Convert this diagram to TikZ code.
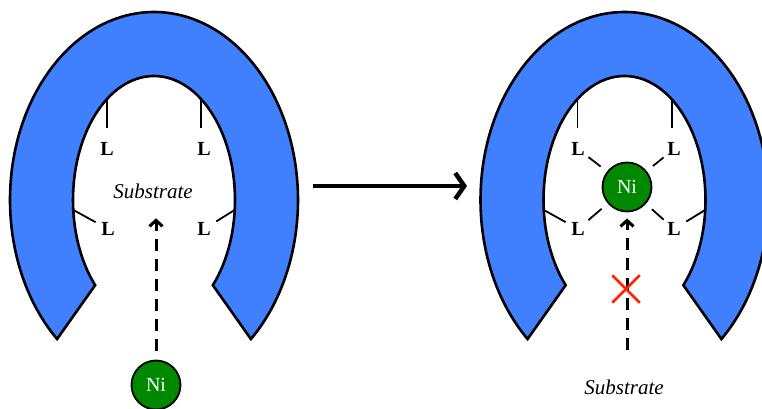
\documentclass[tikz,border=0pt]{standalone}
\usepackage{fontspec}
\setmainfont{Liberation Serif}
\usetikzlibrary{arrows.meta,shapes.misc,calc}
\definecolor{hoofblue}{RGB}{64,128,255}
\definecolor{nigreen}{RGB}{0,136,0}
\definecolor{blockred}{RGB}{255,34,0}
\begin{document}
\begin{tikzpicture}[x=1pt,y=1pt,
  host/.style={fill=hoofblue,draw=black,line width=2.6pt,line join=miter},
  lig/.style={font=\fontsize{20}{20}\selectfont\bfseries,inner sep=2pt},
  bond/.style={line width=1.8pt},
  metal/.style={circle,fill=nigreen,draw=black,line width=1.8pt,minimum size=49pt,
    inner sep=0pt,text=white,font=\fontsize{20}{20}\selectfont},
  subst/.style={font=\fontsize{21}{21}\selectfont\itshape,inner sep=3pt},
  approach/.style={line width=3pt,dash pattern=on 12pt off 8pt,
    -{Straight Barb[length=6pt,width=13pt]}},
  react/.style={line width=4.5pt,-{Straight Barb[length=9pt,width=26pt]}},
  blocked/.style={cross out,draw=blockred,line width=2.5pt,minimum size=25pt,inner sep=0pt},
  hoof/.pic={
    \draw[host] (227.7:144pt and 188pt)
      arc[start angle=227.7,end angle=-47.7,x radius=144pt,y radius=188pt]
      -- (-43.4:81pt and 124pt)
      arc[start angle=-43.4,end angle=223.4,x radius=81pt,y radius=124pt] -- cycle;
    \coordinate (-w1) at (125.5:81pt and 124pt);
    \coordinate (-w2) at (54.4:81pt and 124pt);
    \coordinate (-w3) at (184.6:81pt and 124pt);
    \coordinate (-w4) at (-4.6:81pt and 124pt);
  }
]
\useasboundingbox (0,0) rectangle (762,409);
\clip (0,0) rectangle (762,409);

% ---- free host: substrate inside, nickel outside ----
\pic (hL) at (154,209) {hoof};
\node[lig] (L1) at (107,260) {L};
\node[lig] (L2) at (204,260) {L};
\node[lig] (L3) at (108,180) {L};
\node[lig] (L4) at (204,180) {L};
\draw[bond,shorten >=12pt] (hL-w1) -- (hL-w1 |- L1.north);
\draw[bond,shorten >=12pt] (hL-w2) -- (hL-w2 |- L2.north);
\draw[bond,shorten >=4pt] (hL-w3) -- (L3);
\draw[bond,shorten >=4pt] (hL-w4) -- (L4);
\node[subst] (SubL) at (153,218) {Substrate};
\node[metal] (NiL) at (156,24) {Ni};
\draw[approach,shorten <=8.5pt,shorten >=16.7pt] (NiL) -- (NiL |- SubL.south);

% ---- reaction arrow ----
\coordinate (r1) at (313,223);
\coordinate (r2) at (467,223);
\draw[react] (r1) -- (r2);

% ---- nickel bound in the host, substrate kept out ----
\pic (hR) at (624.5,209) {hoof};
\node[metal] (NiR) at (627,222) {Ni};
\node[lig] (L5) at (578,260) {L};
\node[lig] (L6) at (674,260) {L};
\node[lig] (L7) at (578,180) {L};
\node[lig] (L8) at (674,180) {L};
\draw[bond,shorten >=12pt] (hR-w1) -- (hR-w1 |- L5.north);
\draw[bond,shorten >=12pt] (hR-w2) -- (hR-w2 |- L6.north);
\draw[bond,shorten >=4pt] (hR-w3) -- (L7);
\draw[bond,shorten >=4pt] (hR-w4) -- (L8);
\foreach \l in {L5,L6,L7,L8}
  \draw[bond,shorten <=8pt,shorten >=2pt] (NiR) -- (\l);
\node[subst] (SubR) at (624,22) {Substrate};
\draw[approach,shorten <=26.7pt,shorten >=6pt] (NiR |- SubR.north) -- (NiR);
\node[blocked] (X) at (626,120) {};
\end{tikzpicture}
\end{document}
